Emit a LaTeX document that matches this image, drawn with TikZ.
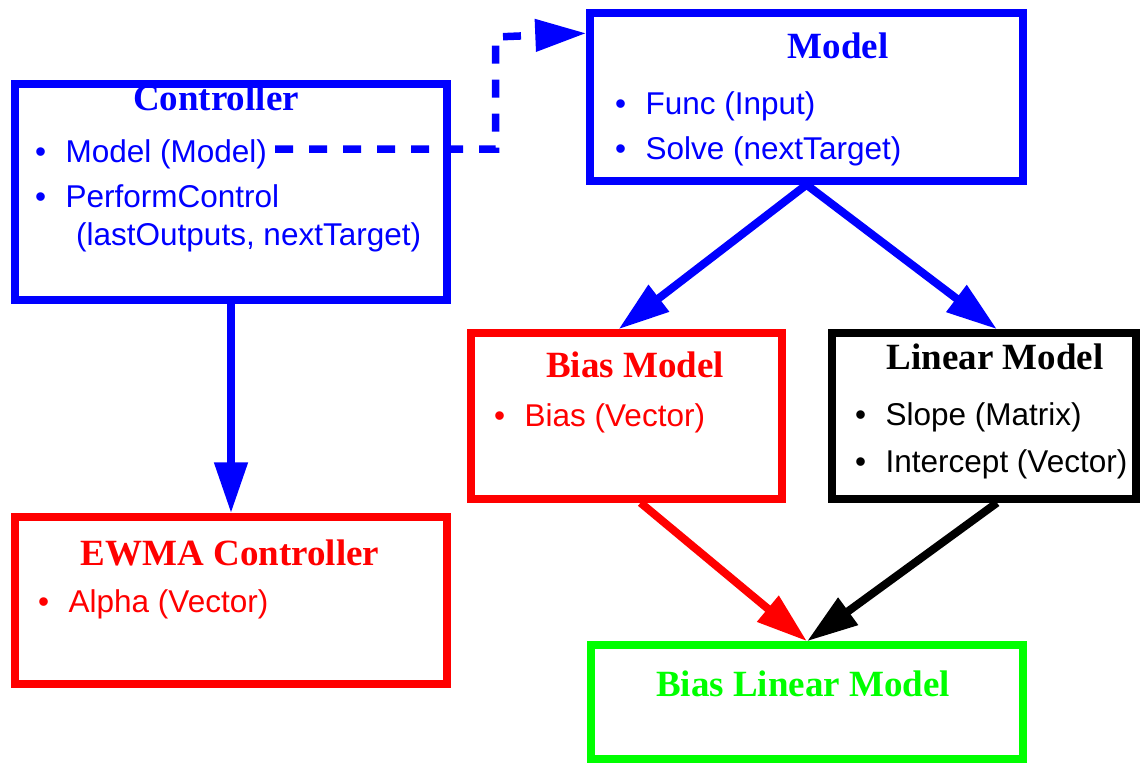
\documentclass[tikz,border=0pt]{standalone}
\usepackage{fontspec}
\setmainfont{Liberation Serif}
\setsansfont{Liberation Sans}
\usetikzlibrary{arrows.meta,calc}
\definecolor{pblue}{RGB}{0,0,255}
\definecolor{pred}{RGB}{255,0,0}
\definecolor{pgreen}{RGB}{0,255,0}
\newcommand{\ttlfont}{\rmfamily\bfseries\fontsize{37}{40}\selectfont}
\newcommand{\itmfont}{\sffamily\fontsize{31.5}{38}\selectfont}
\newcommand{\bul}{\makebox[30.5pt][l]{\textbullet}}
\tikzset{
  box/.style={draw, line width=7.5pt, rectangle, inner sep=0pt},
  ttl/.style={font=\ttlfont, anchor=base, inner sep=0pt},
  itm/.style={font=\itmfont, anchor=base west, inner sep=0pt},
  arr/.style={line width=8pt, -{Triangle[length=51pt,width=32pt]}},
  dsh/.style={line width=7.5pt, dash pattern=on 18pt off 16pt, -{Triangle[length=51pt,width=31pt]}},
}
\begin{document}
\begin{tikzpicture}[x=1pt,y=-1pt]
\useasboundingbox (0,0) rectangle (1140,763);
% boxes
\node[box, pblue, minimum width=432pt, minimum height=216pt] (ctrl) at (231,192) {};
\node[box, pblue, minimum width=433pt, minimum height=168pt] (model) at (806.5,97) {};
\node[box, pred, minimum width=311pt, minimum height=166pt] (bias) at (626.5,416) {};
\node[box, black, minimum width=304pt, minimum height=166pt] (lin) at (984,416) {};
\node[box, pred, minimum width=432pt, minimum height=167pt] (ewma) at (231,600.5) {};
\node[box, pgreen, minimum width=432pt, minimum height=114pt] (blm) at (807,702) {};
% texts
\node[ttl, pblue] (ctrlT) at (216,110) {Controller};
\node[itm, pblue] (ctrlA) at (35,162) {\bul Model (Model)};
\node[itm, pblue] (ctrlB) at (35,207) {\bul PerformControl};
\node[itm, pblue] (ctrlC) at (76,245) {(lastOutputs, nextTarget)};
\node[ttl, pblue] (modelT) at (838,58) {Model};
\node[itm, pblue] (modelA) at (615,114) {\bul Func (Input)};
\node[itm, pblue] (modelB) at (615,159) {\bul Solve (nextTarget)};
\node[ttl, pred] (biasT) at (635,377) {Bias Model};
\node[itm, pred] (biasA) at (494,426) {\bul Bias (Vector)};
\node[ttl, black] (linT) at (995,369) {Linear Model};
\node[itm, black] (linA) at (855,425) {\bul Slope (Matrix)};
\node[itm, black] (linB) at (855,472) {\bul Intercept (Vector)};
\node[ttl, pred] (ewmaT) at (230,565) {EWMA Controller};
\node[itm, pred] (ewmaA) at (38,612) {\bul Alpha (Vector)};
\node[ttl, pgreen] (blmT) at (803,696) {Bias Linear Model};
% connectors
\draw[arr, pblue] (ctrl.south) -- (ewma.north);
\draw[arr, pblue] (model.south) -- ($(bias.north)+(-8,0)$);
\draw[arr, pblue] (model.south) -- ($(lin.north)+(13,0)$);
\draw[arr, pred] ($(bias.south)+(14,0)$) -- (blm.north);
\draw[arr, black] ($(lin.south)+(13,0)$) -- (blm.north);
\coordinate (dstart) at (275,149);
\coordinate (dmid) at (495.5,37);
\coordinate (mtgt) at ($(model.north west)+(0,24)$);
\draw[dsh, pblue] (dstart) -| (dmid) -- (mtgt);
\end{tikzpicture}
\end{document}
